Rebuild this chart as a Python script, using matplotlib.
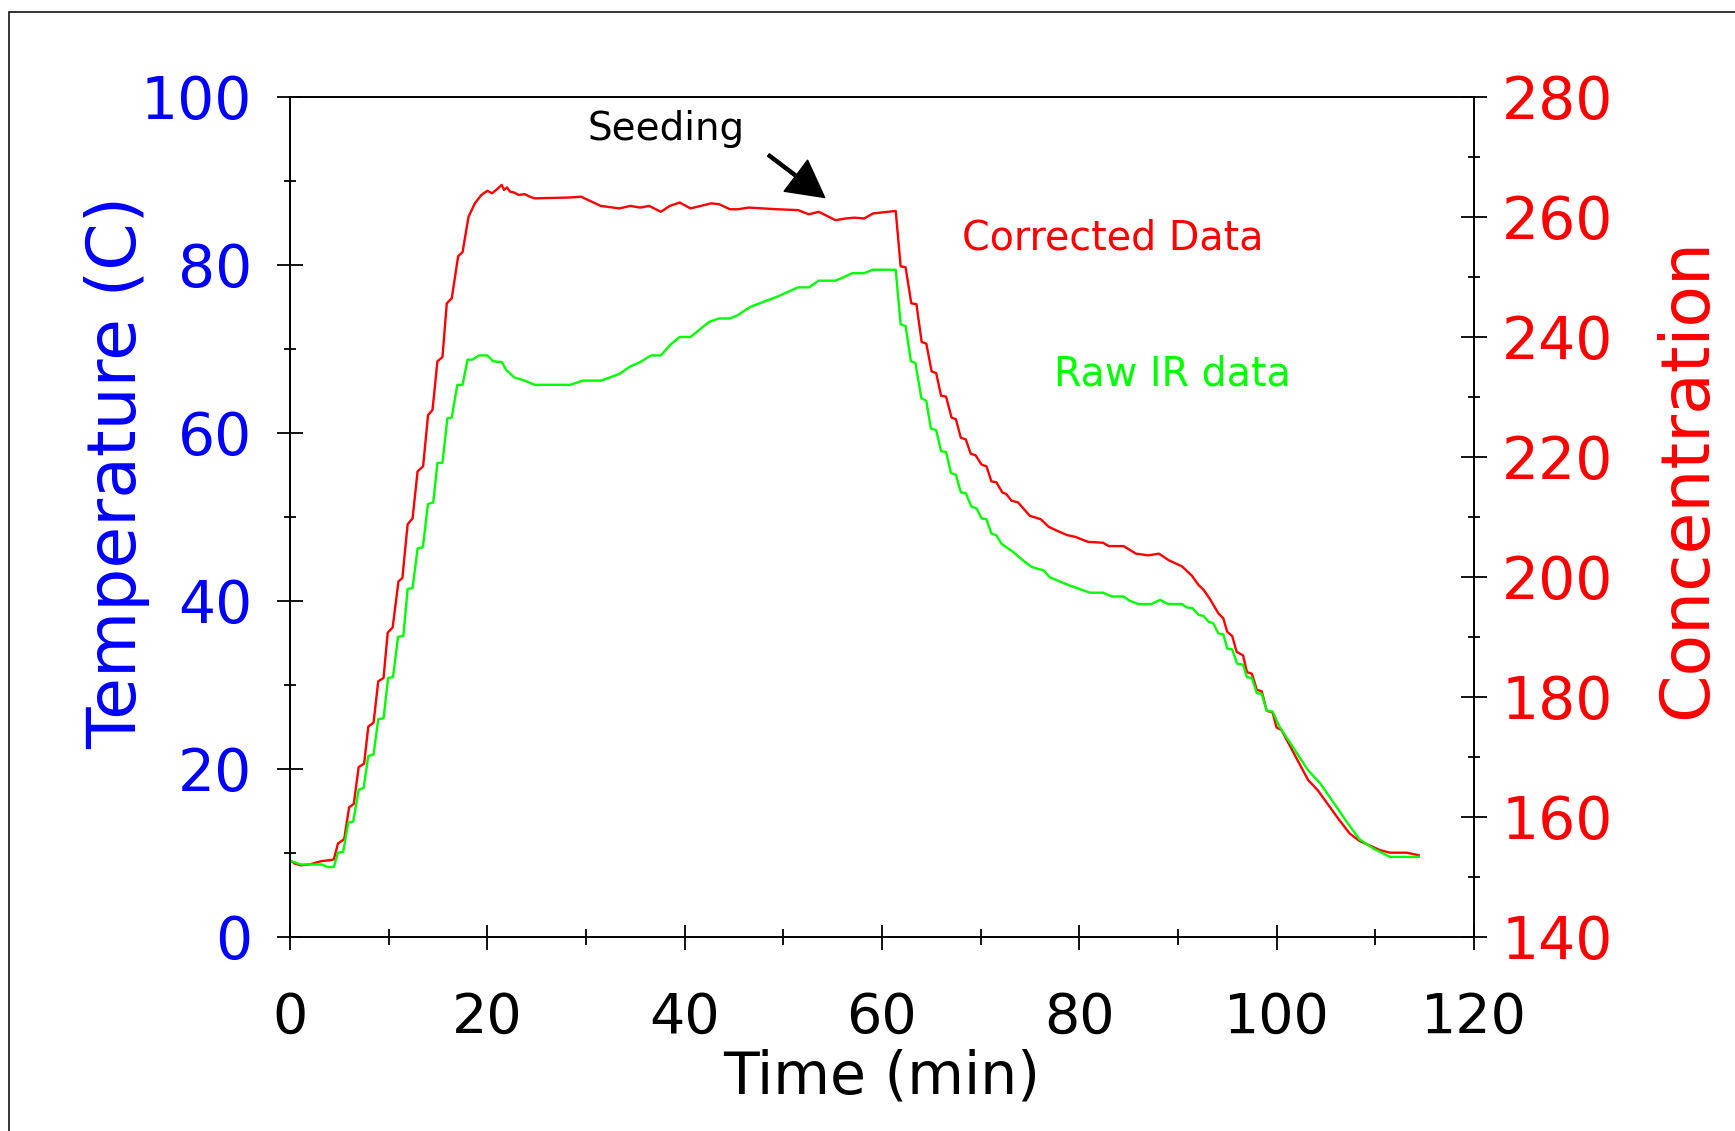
import matplotlib.pyplot as plt
from matplotlib.patches import Rectangle
from matplotlib.ticker import MultipleLocator

# values (time in min, value on the left axis scale)
red_t = [0.0, 0.5, 1.1, 2.0, 3.2, 4.0, 4.45, 4.87, 5.5, 6.0, 6.47, 6.97, 7.52, 7.94, 8.48,
         8.95, 9.49, 9.91, 10.41, 11.0, 11.4, 11.93, 12.43, 12.94, 13.5, 14.0, 14.45, 14.95,
         15.46, 15.9, 16.4, 17.05, 17.5, 18.1, 18.74, 19.4, 20.0, 20.5, 21.0, 21.47, 21.7,
         22.0, 22.3, 22.7, 23.2, 23.8, 24.3, 24.8, 28.4, 29.5, 31.5, 33.4, 34.5, 35.5, 36.4,
         37.6, 38.5, 39.5, 40.6, 42.7, 43.5, 44.6, 45.4, 46.5, 49.4, 51.5, 52.6, 53.6, 55.3,
         56.3, 57.2, 58.2, 59.1, 61.4, 61.9, 62.4, 62.98, 63.5, 64.03, 64.5, 65.04, 65.5,
         66.0, 66.5, 67.06, 67.5, 68.0, 68.5, 69.0, 69.5, 70.1, 70.6, 71.1, 71.6, 72.2, 72.6,
         73.15, 73.8, 74.4, 75.0, 76.1, 76.9, 77.8, 78.8, 79.6, 80.9, 82.4, 83.0, 84.5, 85.75,
         87.0, 88.07, 89.1, 90.4, 91.4, 92.07, 92.6, 93.3, 94.1, 94.6, 95.0, 95.5, 95.96, 96.6,
         97.0, 97.5, 98.0, 98.5, 99.0, 99.6, 100.0, 100.5, 103.2, 104.2, 106.1, 107.4, 108.4,
         110.5, 111.5, 113.2, 114.4]
red_v = [9.1, 8.7, 8.5, 8.6, 9.0, 9.1, 9.2, 11.1, 11.6, 15.4, 15.8, 20.2, 20.6, 25.0, 25.5,
         30.4, 30.8, 36.2, 36.8, 42.3, 42.7, 49.1, 49.8, 55.4, 56.0, 62.1, 62.7, 68.5,
         69.0, 75.4, 76.0, 81.0, 81.5, 85.7, 87.3, 88.3, 88.8, 88.5, 89.0, 89.5, 88.9,
         89.2, 88.7, 88.6, 88.3, 88.4, 88.1, 87.9, 88.0, 88.1, 87.0, 86.7, 87.0, 86.8, 87.0,
         86.3, 87.0, 87.4, 86.7, 87.3, 87.2, 86.6, 86.6, 86.8, 86.6, 86.5, 86.0, 86.3, 85.3,
         85.5, 85.6, 85.5, 86.1, 86.4, 79.8, 79.7, 75.4, 75.3, 70.8, 70.6, 67.3, 67.1,
         64.4, 64.3, 61.8, 61.6, 59.4, 59.2, 57.5, 57.3, 56.2, 56.0, 54.2, 54.1, 52.9, 52.7,
         51.9, 51.7, 50.9, 50.1, 49.7, 48.8, 48.3, 47.8, 47.6, 47.0, 46.9, 46.5, 46.5, 45.6,
         45.4, 45.6, 44.8, 44.1, 43.0, 41.9, 41.3, 40.1, 38.5, 37.9, 36.3, 35.8, 33.9, 33.5,
         31.5, 31.3, 29.4, 29.2, 26.9, 26.7, 24.9, 24.6, 18.65, 17.4, 14.3, 12.3, 11.4,
         10.3, 10.0, 10.0, 9.7]

green_t = [0.0, 1.1, 3.2, 3.8, 4.45, 4.87, 5.4, 5.92, 6.42, 6.97, 7.47, 7.94, 8.48, 8.95, 9.49,
           9.95, 10.45, 10.96, 11.5, 11.93, 12.43, 12.94, 13.48, 13.99, 14.53, 14.95, 15.46,
           15.96, 16.4, 16.97, 17.5, 18.0, 18.5, 19.16, 20.0, 20.6, 21.5, 21.9, 22.7, 23.8,
           24.8, 28.4, 29.7, 31.55, 33.4, 34.5, 35.5, 36.6, 37.6, 38.5, 39.5, 40.6, 42.5,
           43.5, 44.6, 45.4, 46.7, 49.4, 51.5, 52.6, 53.6, 55.3, 56.1, 57.0, 58.2, 59.1,
           61.4, 61.9, 62.4, 62.94, 63.4, 64.0, 64.5, 64.96, 65.5, 66.0, 66.5, 67.0, 67.5,
           68.0, 68.5, 69.07, 69.6, 70.1, 70.6, 71.1, 71.6, 72.1, 73.3, 74.3, 75.2, 76.4,
           77.0, 78.0, 79.05, 81.1, 82.4, 83.3, 84.5, 85.1, 86.0, 87.3, 88.2, 89.0, 90.4,
           90.9, 91.5, 92.1, 92.6, 93.1, 93.6, 94.1, 94.6, 95.0, 95.5, 96.0, 96.6, 97.0,
           97.5, 98.0, 98.5, 99.0, 99.6, 100.3, 103.2, 104.4, 107.1, 108.4, 109.8, 111.5,
           114.4]
green_v = [9.05, 8.6, 8.6, 8.3, 8.3, 10.0, 10.1, 13.6, 13.7, 17.5, 17.7, 21.5, 21.7, 25.9, 26.0,
           30.8, 30.9, 35.7, 35.8, 41.4, 41.5, 46.2, 46.4, 51.5, 51.7, 56.4, 56.4,
           61.7, 61.8, 65.7, 65.7, 68.7, 68.7, 69.2, 69.2, 68.5, 68.4, 67.5, 66.6, 66.2,
           65.7, 65.7, 66.2, 66.2, 67.0, 67.9, 68.4, 69.2, 69.2, 70.4, 71.4, 71.4, 73.2,
           73.6, 73.6, 74.0, 75.0, 76.2, 77.3, 77.3, 78.1, 78.1, 78.5, 79.0, 79.0, 79.4,
           79.4, 72.9, 72.7, 68.5, 68.3, 64.1, 63.8, 60.5, 60.3, 57.8, 57.7, 55.2, 55.0,
           52.9, 52.8, 51.2, 51.0, 49.8, 49.7, 48.0, 47.8, 46.8, 45.8, 44.8, 44.0, 43.6,
           42.8, 42.3, 41.8, 40.95, 40.95, 40.5, 40.5, 40.0, 39.6, 39.6, 40.1, 39.6, 39.6,
           39.2, 39.1, 38.3, 38.2, 37.5, 37.3, 36.1, 36.0, 34.3, 34.2, 32.5, 32.4, 30.9,
           30.8, 29.0, 28.9, 26.9, 26.8, 25.0, 19.8, 18.3, 13.7, 11.6, 10.5, 9.5,
           9.5]

fig = plt.figure(figsize=(17.35, 11.31), dpi=100)
ax = fig.add_axes([0.1671, 0.1718, 0.6824, 0.7427])

ax.plot(red_t, red_v, color='#ff0000', lw=1.7)
ax.plot(green_t, green_v, color='#00ff00', lw=1.7)

ax.set_xlim(0, 120)
ax.set_ylim(0, 100)
ax.xaxis.set_major_locator(MultipleLocator(20))
ax.xaxis.set_minor_locator(MultipleLocator(10))
ax.yaxis.set_major_locator(MultipleLocator(20))
ax.yaxis.set_minor_locator(MultipleLocator(10))
for s in ax.spines.values():
    s.set_linewidth(1.2)

ax.tick_params(axis='both', which='both', direction='inout', width=1.3, labelsize=40)
ax.tick_params(axis='x', which='major', length=18, pad=30)
ax.tick_params(axis='x', which='minor', length=12)
ax.tick_params(axis='y', which='major', length=18.5, pad=18, labelcolor='#0000ff',
               labelsize=42)
ax.tick_params(axis='y', which='minor', length=9)

ax.set_xlabel('Time (min)', fontsize=42)
ax.xaxis.set_label_coords(0.5, -0.133)
ax.set_ylabel('Temperature (C)', fontsize=49, color='#0000ff')
ax.yaxis.set_label_coords(-0.118, 0.553)

ax2 = ax.twinx()
ax2.set_ylim(140, 280)
ax2.yaxis.set_major_locator(MultipleLocator(20))
ax2.yaxis.set_minor_locator(MultipleLocator(10))
ax2.tick_params(axis='y', which='both', direction='inout', width=1.3, labelsize=42,
                labelcolor='#ff0000')
ax2.tick_params(axis='y', which='major', length=18.5, pad=11)
ax2.tick_params(axis='y', which='minor', length=8.5)
for s in ax2.spines.values():
    s.set_linewidth(1.2)
ax2.set_ylabel('Concentration', fontsize=49, color='#ff0000')
ax2.yaxis.set_label_coords(1.152, 0.546)

# annotations
ax.text(38.1, 94.85, 'Seeding', fontsize=28, ha='center', va='baseline', color='black')
ax.annotate('', xy=(54.2, 88.0), xytext=(48.5, 93.06),
            arrowprops=dict(facecolor='black', edgecolor='black', width=2.2,
                            headwidth=28, headlength=26, shrink=0))
ax.text(68.1, 81.8, 'Corrected Data', fontsize=28.5, color='#ff0000', va='baseline')
ax.text(77.4, 65.56, 'Raw IR data', fontsize=28.5, color='#00ff00', va='baseline')

# outer frame of the original picture
fig.patches.append(Rectangle((9 / 1735, -0.1), 1.2, 1.1 - 12.3 / 1131, transform=fig.transFigure,
                             fill=False, lw=1.1, ec='black'))

fig.savefig('out.png', dpi=100)
